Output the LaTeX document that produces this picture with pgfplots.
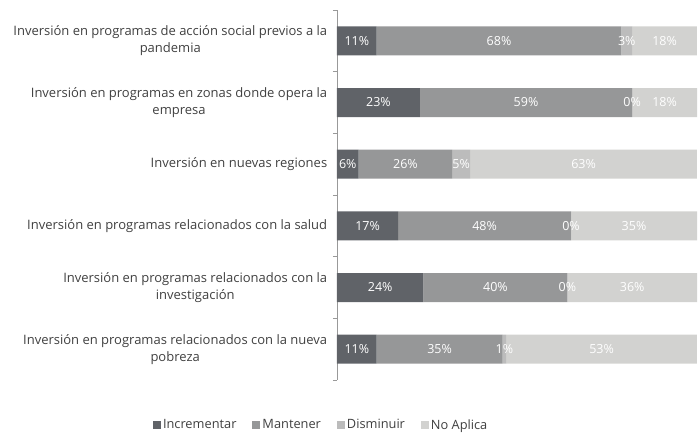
\documentclass[border=0pt]{standalone}
\usepackage{fontspec}
\setmainfont{Open Sans}
\usepackage{pgfplots}
\pgfplotsset{compat=1.18}
\usepackage{pgfplotstable}

\definecolor{cInc}{HTML}{606368}
\definecolor{cMan}{HTML}{969798}
\definecolor{cDis}{HTML}{BCBCBC}
\definecolor{cNoA}{HTML}{D2D2D0}
\definecolor{txt}{HTML}{404040}

% share of responses per row, in percent
\pgfplotstableread{
pos inc man dis noa
0   11  68  3   18
1   23  59  0   18
2   6   26  5   63
3   17  48  0   35
4   24  40  0   36
5   11  35  1   53
}\datatable

\pgfplotsset{
  seg/.style={
    fill=#1, draw=none,
  },
  seglabel/.style={
    visualization depends on={\thisrow{#1} \as \segw},
    nodes near coords={\pgfmathprintnumber[assume math mode=true]{\segw}\%},
    every node near coord/.style={anchor=center, inner sep=0pt, text=white, font=\fontsize{12.5}{14}\selectfont},
  },
}

\begin{document}
\begin{tikzpicture}
\begin{axis}[
  scale only axis,
  width=360pt, height=370pt,
  xbar stacked, bar width=29pt,
  xmin=0, xmax=100,
  ymin=-0.5, ymax=5.5,
  y dir=reverse,
  hide x axis,
  axis y line*=left,
  y axis line style={draw=gray!80, line width=0.8pt},
  ytick={0,...,5},
  major y tick style={draw=none},
  minor ytick={-0.5,0.5,...,5.5},
  minor tick length=4pt,
  minor y tick style={draw=gray!80, line width=0.8pt},
  tick align=outside,
  yticklabels={
    {Inversión en programas de acción social previos a la\\pandemia},
    {Inversión en programas en zonas donde opera la\\empresa},
    {Inversión en nuevas regiones},
    {Inversión en programas relacionados con la salud},
    {Inversión en programas relacionados con la\\investigación},
    {Inversión en programas relacionados con la nueva\\pobreza},
  },
  yticklabel style={align=center, text=txt, font=\fontsize{13}{17}\selectfont, xshift=-2pt},
  legend style={at={(-0.044,-0.1216)}, anchor=center, draw=none, legend columns=4,
    font=\fontsize{12.8}{14}\selectfont, text=txt,
    /tikz/every even column/.append style={column sep=14pt}},
  legend image code/.code={\fill[#1] (0pt,-4pt) rectangle (8pt,4pt);},
  clip=false,
]
\addplot[seg=cInc, seglabel=inc] table[x=inc, y=pos] {\datatable};
\addlegendentry{Incrementar}
\addplot[seg=cMan, seglabel=man] table[x=man, y=pos] {\datatable};
\addlegendentry{Mantener}
% zero shares get a hair of width so that their 0% label is still drawn
\addplot[seg=cDis, seglabel=dis] table[x expr={max(\thisrow{dis},0.01)}, y=pos] {\datatable};
\addlegendentry{Disminuir}
\addplot[seg=cNoA, seglabel=noa] table[x=noa, y=pos] {\datatable};
\addlegendentry{No Aplica}
\end{axis}
\path (-337pt,-54pt) rectangle (362pt,380pt);
\end{tikzpicture}
\end{document}
